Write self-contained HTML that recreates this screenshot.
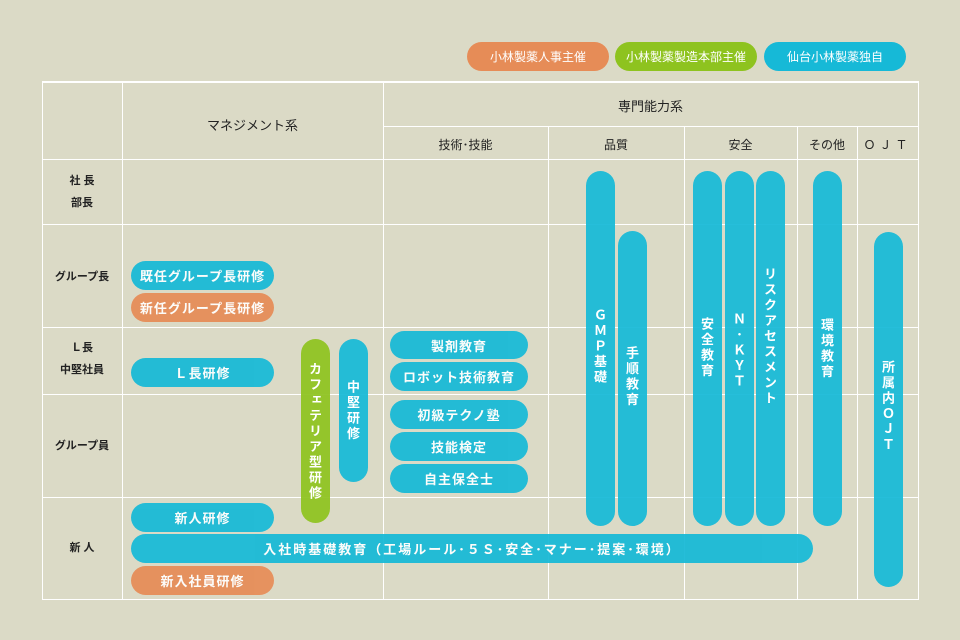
<!DOCTYPE html>
<html><head><meta charset="utf-8"><style>
*{margin:0;padding:0;box-sizing:border-box}
body{width:960px;height:640px;background:#dbdac6;position:relative;overflow:hidden;font-family:"Liberation Sans","Noto Sans CJK JP",sans-serif}
.l{position:absolute;background:#fff}
.p{position:absolute;border-radius:15px;color:#fff;font-weight:bold;font-size:13px;display:flex;align-items:center;justify-content:center;opacity:.93;letter-spacing:1px}
.b{background:#16b9d7}.o{background:#e68c57}.g{background:#8ec31f}
.v{position:absolute;border-radius:15px;opacity:.93}
.vt{position:absolute;color:#fff;font-weight:bold;font-size:13px;writing-mode:vertical-rl;text-orientation:upright;letter-spacing:2.5px;line-height:1}
.t{position:absolute;font-size:12px;color:#222;text-align:center}
.hb{font-weight:bold;font-size:11px;line-height:22px}
.leg{position:absolute;border-radius:15px;color:#fff;font-size:12px;display:flex;align-items:center;justify-content:center;height:29px;width:142px;top:42px}
</style></head><body>
<div class="leg o" style="left:467px">小林製薬人事主催</div>
<div class="leg g" style="left:615px">小林製薬製造本部主催</div>
<div class="leg b" style="left:764px">仙台小林製薬独自</div>

<div class="l" style="left:42px;top:81px;width:877px;height:2px"></div>
<div class="l" style="left:383px;top:126px;width:536px;height:1px"></div>
<div class="l" style="left:42px;top:159px;width:877px;height:1px"></div>
<div class="l" style="left:42px;top:224px;width:877px;height:1px"></div>
<div class="l" style="left:42px;top:327px;width:877px;height:1px"></div>
<div class="l" style="left:42px;top:394px;width:877px;height:1px"></div>
<div class="l" style="left:42px;top:497px;width:877px;height:1px"></div>
<div class="l" style="left:42px;top:599px;width:877px;height:1px"></div>
<div class="l" style="left:42px;top:81px;width:1px;height:519px"></div>
<div class="l" style="left:122px;top:81px;width:1px;height:519px"></div>
<div class="l" style="left:383px;top:81px;width:1px;height:519px"></div>
<div class="l" style="left:548px;top:126px;width:1px;height:474px"></div>
<div class="l" style="left:684px;top:126px;width:1px;height:474px"></div>
<div class="l" style="left:797px;top:126px;width:1px;height:474px"></div>
<div class="l" style="left:857px;top:126px;width:1px;height:474px"></div>
<div class="l" style="left:918px;top:81px;width:1px;height:519px"></div>

<div class="t" style="left:122px;top:115px;width:261px;font-size:13px">マネジメント系</div>
<div class="t" style="left:383px;top:96px;width:535px;font-size:13px">専門能力系</div>
<div class="t" style="left:383px;top:136px;width:165px">技術･技能</div>
<div class="t" style="left:548px;top:136px;width:136px">品質</div>
<div class="t" style="left:684px;top:136px;width:113px">安全</div>
<div class="t" style="left:797px;top:136px;width:60px">その他</div>
<div class="t" style="left:857px;top:136px;width:61px;letter-spacing:4px">ＯＪＴ</div>

<div class="t hb" style="left:42px;top:170px;width:80px">社 長<br>部長</div>
<div class="t hb" style="left:42px;top:266px;width:80px">グループ長</div>
<div class="t hb" style="left:42px;top:337px;width:80px">Ｌ長<br>中堅社員</div>
<div class="t hb" style="left:42px;top:435px;width:80px">グループ員</div>
<div class="t hb" style="left:42px;top:537px;width:80px">新 人</div>

<div class="p b" style="left:131px;top:261px;width:143px;height:29px">既任グループ長研修</div>
<div class="p o" style="left:131px;top:293px;width:143px;height:29px">新任グループ長研修</div>
<div class="p b" style="left:131px;top:358px;width:143px;height:29px">Ｌ長研修</div>
<div class="p b" style="left:131px;top:503px;width:143px;height:29px">新人研修</div>
<div class="p b" style="left:131px;top:534px;width:682px;height:29px;letter-spacing:2px">入社時基礎教育（工場ルール･５Ｓ･安全･マナー･提案･環境）</div>
<div class="p o" style="left:131px;top:566px;width:143px;height:29px">新入社員研修</div>

<div class="v g" style="left:301px;top:339px;width:29px;height:184px"></div>
<div class="vt" style="left:308px;top:362px">カフェテリア型研修</div>
<div class="v b" style="left:339px;top:339px;width:29px;height:143px"></div>
<div class="vt" style="left:346px;top:380px">中堅研修</div>

<div class="p b" style="left:390px;top:331px;width:138px;height:28px">製剤教育</div>
<div class="p b" style="left:390px;top:362px;width:138px;height:29px">ロボット技術教育</div>
<div class="p b" style="left:390px;top:400px;width:138px;height:29px">初級テクノ塾</div>
<div class="p b" style="left:390px;top:432px;width:138px;height:29px">技能検定</div>
<div class="p b" style="left:390px;top:464px;width:138px;height:29px">自主保全士</div>

<div class="v b" style="left:586px;top:171px;width:29px;height:355px"></div>
<div class="vt" style="left:593px;top:308px">ＧＭＰ基礎</div>
<div class="v b" style="left:618px;top:231px;width:29px;height:295px"></div>
<div class="vt" style="left:625px;top:346px">手順教育</div>
<div class="v b" style="left:693px;top:171px;width:29px;height:355px"></div>
<div class="vt" style="left:700px;top:317px">安全教育</div>
<div class="v b" style="left:725px;top:171px;width:29px;height:355px"></div>
<div class="vt" style="left:732px;top:312px">Ｎ･ＫＹＴ</div>
<div class="v b" style="left:756px;top:171px;width:29px;height:355px"></div>
<div class="vt" style="left:763px;top:267px">リスクアセスメント</div>
<div class="v b" style="left:813px;top:171px;width:29px;height:355px"></div>
<div class="vt" style="left:820px;top:318px">環境教育</div>
<div class="v b" style="left:874px;top:232px;width:29px;height:355px"></div>
<div class="vt" style="left:881px;top:360px">所属内ＯＪＴ</div>
</body></html>
